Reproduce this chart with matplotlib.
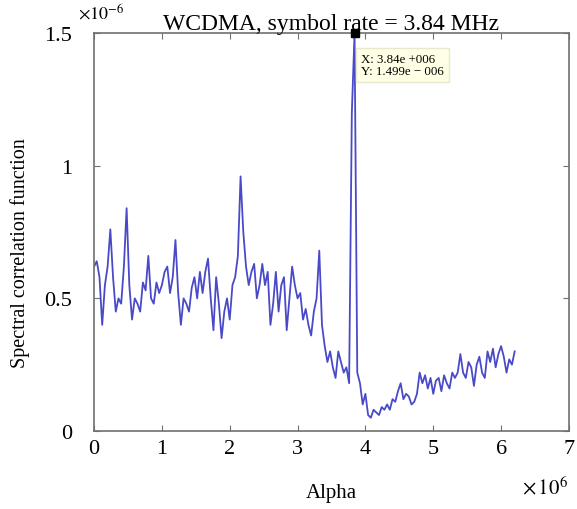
import numpy as np
import matplotlib
matplotlib.use("Agg")
import matplotlib.pyplot as plt

plt.rcParams['font.family'] = ['Liberation Serif', 'DejaVu Serif']
plt.rcParams['mathtext.fontset'] = 'stix'

# Alpha sampling grid step (units of 1e6)
alpha_step = 0.04
# Spectral correlation values (units of 1e-6)
scf = [0.62, 0.64, 0.58, 0.40, 0.55, 0.62, 0.76, 0.58, 0.45, 0.50,
       0.48, 0.62, 0.84, 0.55, 0.42, 0.50, 0.48, 0.45, 0.56, 0.53,
       0.66, 0.50, 0.48, 0.56, 0.52, 0.55, 0.60, 0.62, 0.52, 0.58,
       0.72, 0.52, 0.40, 0.50, 0.48, 0.45, 0.54, 0.58, 0.50, 0.60,
       0.52, 0.60, 0.65, 0.50, 0.38, 0.58, 0.48, 0.35, 0.45, 0.50,
       0.42, 0.55, 0.58, 0.66, 0.96, 0.75, 0.62, 0.55, 0.60, 0.63,
       0.50, 0.55, 0.63, 0.55, 0.60, 0.40, 0.48, 0.60, 0.45, 0.55,
       0.58, 0.38, 0.50, 0.62, 0.55, 0.50, 0.52, 0.42, 0.46, 0.40,
       0.36, 0.45, 0.50, 0.68, 0.40, 0.32, 0.26, 0.30, 0.24, 0.20,
       0.30, 0.26, 0.22, 0.24, 0.18, 1.20, 1.499, 0.22, 0.18, 0.10,
       0.14, 0.06, 0.05, 0.08, 0.07, 0.06, 0.09, 0.08, 0.10, 0.08,
       0.12, 0.11, 0.15, 0.18, 0.12, 0.14, 0.13, 0.10, 0.11, 0.14,
       0.22, 0.18, 0.21, 0.16, 0.20, 0.14, 0.19, 0.20, 0.15, 0.21,
       0.18, 0.16, 0.22, 0.20, 0.22, 0.29, 0.22, 0.20, 0.26, 0.24,
       0.17, 0.25, 0.28, 0.22, 0.20, 0.30, 0.26, 0.31, 0.24, 0.29,
       0.32, 0.28, 0.22, 0.27, 0.25, 0.30]
alpha = np.arange(len(scf)) * alpha_step

peak_x = 3.84
peak_y = 1.499

xticks = [0, 1, 2, 3, 4, 5, 6, 7]
yticks = [0, 0.5, 1, 1.5]
ytick_labels = ['0', '0.5', '1', '1.5']

fig = plt.figure(figsize=(5.77, 5.10), dpi=100)
ax = fig.add_axes([0.163, 0.153, 0.823, 0.78])
ax.plot(alpha, scf, color='#4a4ac8', lw=1.3)
ax.plot([peak_x], [peak_y], marker='s', color='black', ms=6, clip_on=False, zorder=5)

ax.set_xlim(0, 7)
ax.set_ylim(0, 1.5)
ax.set_xticks(xticks)
ax.set_xticklabels([str(t) for t in xticks])
ax.set_yticks(yticks)
ax.set_yticklabels(ytick_labels)
ax.tick_params(direction='in', top=True, right=True, length=4, color='#707070',
               labelsize=16)
ax.tick_params(axis='y', pad=16)
ax.tick_params(axis='x', pad=6)
for s in ax.spines.values():
    s.set_color('#707070')
    s.set_linewidth(1.2)

ax.set_title('WCDMA, symbol rate = 3.84 MHz', fontsize=17, pad=3)
ax.set_ylabel('Spectral correlation function', fontsize=14.5)
ax.yaxis.set_label_coords(-0.135, 0.45)
ax.set_xlabel('Alpha', fontsize=15, labelpad=18)

fig.text(0.135, 0.955, r'$\times10^{-6}$', fontsize=13, ha='left', va='bottom')
fig.text(0.985, 0.02, r'$\times\,10^{6}$', fontsize=15, ha='right', va='bottom')

ax.annotate('X: 3.84e +006\nY: 1.499e \u2212 006', xy=(peak_x, peak_y),
            xytext=(5, -14), textcoords='offset points', ha='left', va='top',
            fontsize=9.3, linespacing=1.0,
            bbox=dict(boxstyle='square,pad=0.4', fc='#ffffe6', ec='#e8e8d0'))

fig.savefig('out.png', dpi=100)
